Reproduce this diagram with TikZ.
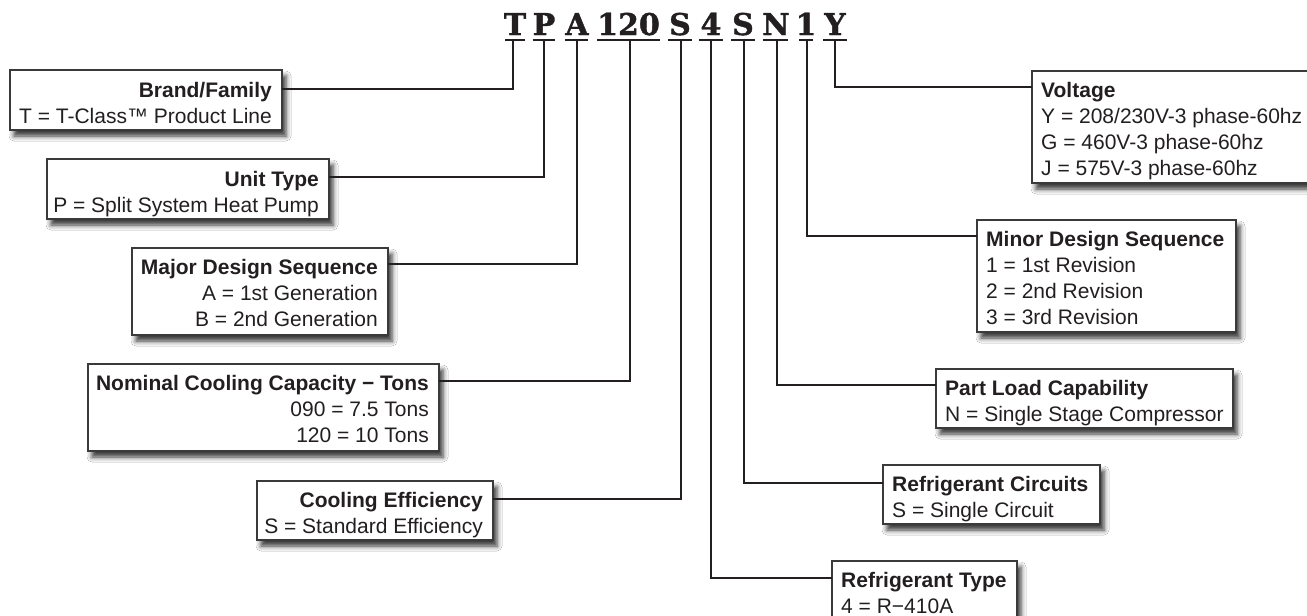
\documentclass[tikz,border=0pt]{standalone}
\usepackage{fontspec}
\setmainfont{Liberation Sans}
\newfontfamily\codefont[BoldFeatures={FakeBold=1.2}]{DejaVu Serif}
\usetikzlibrary{shadows.blur}
\definecolor{ink}{HTML}{231F20}
\definecolor{frame}{HTML}{3A3A3A}
\begin{document}
\begin{tikzpicture}[x=1pt,y=-1pt,
  boxframe/.style={draw=frame, line width=1.3pt, fill=white, anchor=north west,
    inner sep=0pt, outer sep=0pt,
    blur shadow={shadow xshift=4pt, shadow yshift=-6pt, shadow blur radius=5pt, shadow opacity=80}},
  boxtext/.style={inner sep=0pt, text=ink, font=\fontsize{21}{26}\selectfont},
  ltext/.style={boxtext, align=right, anchor=north east},
  rtext/.style={boxtext, align=left, anchor=north west},
  letter/.style={anchor=base, font=\codefont\bfseries\fontsize{30}{30}\selectfont, text=ink, inner sep=0pt},
  uline/.style={line width=2.6pt, draw=ink},
  wire/.style={line width=2pt, draw=ink},
]
\useasboundingbox (0,0) rectangle (1307,616);
\fill[white] (0,0) rectangle (1307,616);

% code letters
\node[letter] (cT)  at (515,35) {T};
\node[letter] (cP)  at (544,35) {P};
\node[letter] (cA)  at (577,35) {A};
\node[letter] (c120) at (628.5,35) {120};
\node[letter] (cS1) at (680,35) {S};
\node[letter] (c4)  at (711,35) {4};
\node[letter] (cS2) at (743,35) {S};
\node[letter] (cN)  at (776,35) {N};
\node[letter] (c1)  at (806,35) {1};
\node[letter] (cY)  at (835,35) {Y};

% underlines
\draw[uline] (505,40) -- (525,40);
\draw[uline] (533,40) -- (555,40);
\draw[uline] (565,40) -- (588,40);
\draw[uline] (597,40) -- (660,40);
\draw[uline] (668,40) -- (692,40);
\draw[uline] (699,40) -- (723,40);
\draw[uline] (731,40) -- (755,40);
\draw[uline] (763,40) -- (788,40);
\draw[uline] (799,40) -- (813,40);
\draw[uline] (823,40) -- (847,40);

\coordinate (vT) at (513,40);
\coordinate (vP) at (544,40);
\coordinate (vA) at (577,40);
\coordinate (v120) at (630,40);
\coordinate (vS1) at (681,40);
\coordinate (v4) at (711,40);
\coordinate (vS2) at (744,40);
\coordinate (vN) at (777,40);
\coordinate (v1) at (807,40);
\coordinate (vY) at (835,40);

% left boxes
\node[boxframe, minimum width=272pt, minimum height=60pt] (b1) at (10,70) {};
\node[ltext] (t1) at ([xshift=-10pt,yshift=-12pt]b1.north east)
  {\textbf{Brand/Family}\\T = T-Class™ Product Line};

\node[boxframe, minimum width=282pt, minimum height=60pt] (b2) at (47,159) {};
\node[ltext] (t2) at ([xshift=-10pt,yshift=-12pt]b2.north east)
  {\textbf{Unit Type}\\P = Split System Heat Pump};

\node[boxframe, minimum width=256pt, minimum height=87pt] (b3) at (132,248) {};
\node[ltext] (t3) at ([xshift=-10pt,yshift=-11pt]b3.north east)
  {\textbf{Major Design Sequence}\\A = 1st Generation\\B = 2nd Generation};

\node[boxframe, minimum width=351pt, minimum height=87pt] (b4) at (88,364) {};
\node[ltext] (t4) at ([xshift=-10pt,yshift=-11pt]b4.north east)
  {\textbf{Nominal Cooling Capacity − Tons}\\090 = 7.5 Tons\\120 = 10 Tons};

\node[boxframe, minimum width=236pt, minimum height=59pt] (b5) at (257,481) {};
\node[ltext] (t5) at ([xshift=-10pt,yshift=-11pt]b5.north east)
  {\textbf{Cooling Efficiency}\\S = Standard Efficiency};

% right boxes
\node[boxframe, minimum width=300pt, minimum height=112pt] (b6) at (1032,71) {};
\node[rtext] (t6) at ([xshift=9pt,yshift=-11pt]b6.north west)
  {\textbf{Voltage}\\Y = 208/230V-3 phase-60hz\\G = 460V-3 phase-60hz\\J = 575V-3 phase-60hz};

\node[boxframe, minimum width=259pt, minimum height=112pt] (b7) at (977,220) {};
\node[rtext] (t7) at ([xshift=9pt,yshift=-11pt]b7.north west)
  {\textbf{Minor Design Sequence}\\1 = 1st Revision\\2 = 2nd Revision\\3 = 3rd Revision};

\node[boxframe, minimum width=297pt, minimum height=59pt] (b8) at (936,369) {};
\node[rtext] (t8) at ([xshift=9pt,yshift=-11pt]b8.north west)
  {\textbf{Part Load Capability}\\N = Single Stage Compressor};

\node[boxframe, minimum width=217pt, minimum height=59pt] (b9) at (883,465) {};
\node[rtext] (t9) at ([xshift=9pt,yshift=-11pt]b9.north west)
  {\textbf{Refrigerant Circuits}\\S = Single Circuit};

\node[boxframe, minimum width=185pt, minimum height=62pt] (b10) at (832,561) {};
\node[rtext] (t10) at ([xshift=9pt,yshift=-11pt]b10.north west)
  {\textbf{Refrigerant Type}\\4 = R−410A};

% connectors
\draw[wire] (vT) |- ([yshift=-19pt]b1.north east);
\draw[wire] (vP) |- ([yshift=-18pt]b2.north east);
\draw[wire] (vA) |- ([yshift=-16pt]b3.north east);
\draw[wire] (v120) |- ([yshift=-17pt]b4.north east);
\draw[wire] (vS1) |- ([yshift=-18pt]b5.north east);
\draw[wire] (vY) |- ([yshift=-16pt]b6.north west);
\draw[wire] (v1) |- ([yshift=-16pt]b7.north west);
\draw[wire] (vN) |- ([yshift=-16pt]b8.north west);
\draw[wire] (vS2) |- ([yshift=-18pt]b9.north west);
\draw[wire] (v4) |- ([yshift=-17pt]b10.north west);
\end{tikzpicture}
\end{document}
